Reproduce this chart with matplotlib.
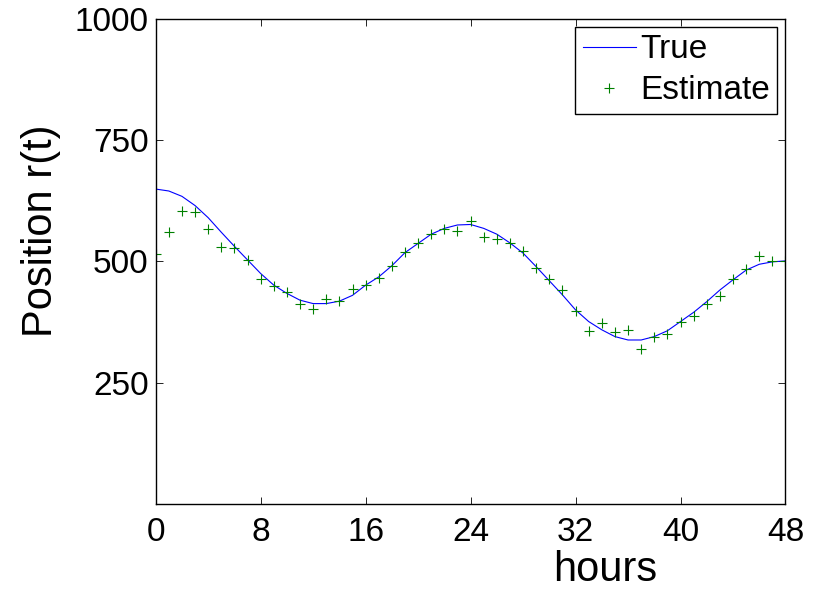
import numpy as np
import matplotlib
matplotlib.use('Agg')
import matplotlib.pyplot as plt

plt.rcParams['font.family'] = ['Liberation Sans', 'DejaVu Sans']

# true trajectory, every hour
t_true = np.arange(0, 49)
r_true = [649, 645, 634, 615, 590, 560, 531, 503, 475, 451,
          434, 420, 413, 413, 418, 430, 451, 468, 491, 518,
          537, 556, 568, 575, 576, 568, 556, 538, 517, 489,
          460, 431, 400, 376, 359, 345, 338, 338, 345, 357,
          376, 395, 417, 441, 462, 482, 494, 499, 501]

# noisy estimates, one per hour
t_est = np.arange(0, 49)
r_est = [515, 561, 604, 602, 567, 530, 528, 502, 463, 449,
         437, 412, 402, 422, 418, 444, 451, 465, 490, 520,
         537, 556, 566, 563, 584, 551, 547, 538, 521, 486,
         463, 440, 398, 356, 374, 354, 358, 319, 345, 350,
         376, 387, 412, 429, 463, 484, 511, 501, 501]

xticks = [0, 8, 16, 24, 32, 40, 48]
yticks = [250, 500, 750, 1000]

fig = plt.figure(figsize=(8.16, 5.92), dpi=100)
ax = fig.add_axes([0.1908, 0.1486, 0.7718, 0.8198])

ax.plot(t_true, r_true, '-', color='#0000ff', lw=0.8, label='True')
ax.plot(t_est, r_est, '+', color='#008000', ms=7.5, mew=0.8, label='Estimate')

ax.set_xlim(0, 48)
ax.set_ylim(0, 1000)
ax.set_xticks(xticks)
ax.set_yticks(yticks)
ax.tick_params(direction='in', length=5, width=0.6, top=True, right=True,
               labelsize=24)
ax.tick_params(axis='x', pad=9)
ax.tick_params(axis='y', pad=5)
for s in ax.spines.values():
    s.set_linewidth(1.0)

ax.set_xlabel('hours', fontsize=30)
ax.xaxis.set_label_coords(0.713, -0.136)
ax.xaxis.label.set_va('center')
ax.set_ylabel('Position r(t)', fontsize=30)
ax.yaxis.set_label_coords(-0.182, 0.563)
ax.yaxis.label.set_va('center')

leg = ax.legend(loc='upper right', fontsize=24, handlelength=1.6,
                handletextpad=0.12, borderaxespad=0.25, labelspacing=0.3,
                borderpad=0.22, fancybox=False, framealpha=1, edgecolor='black')
leg.get_frame().set_linewidth(1.0)

fig.savefig('out.png', dpi=100)
